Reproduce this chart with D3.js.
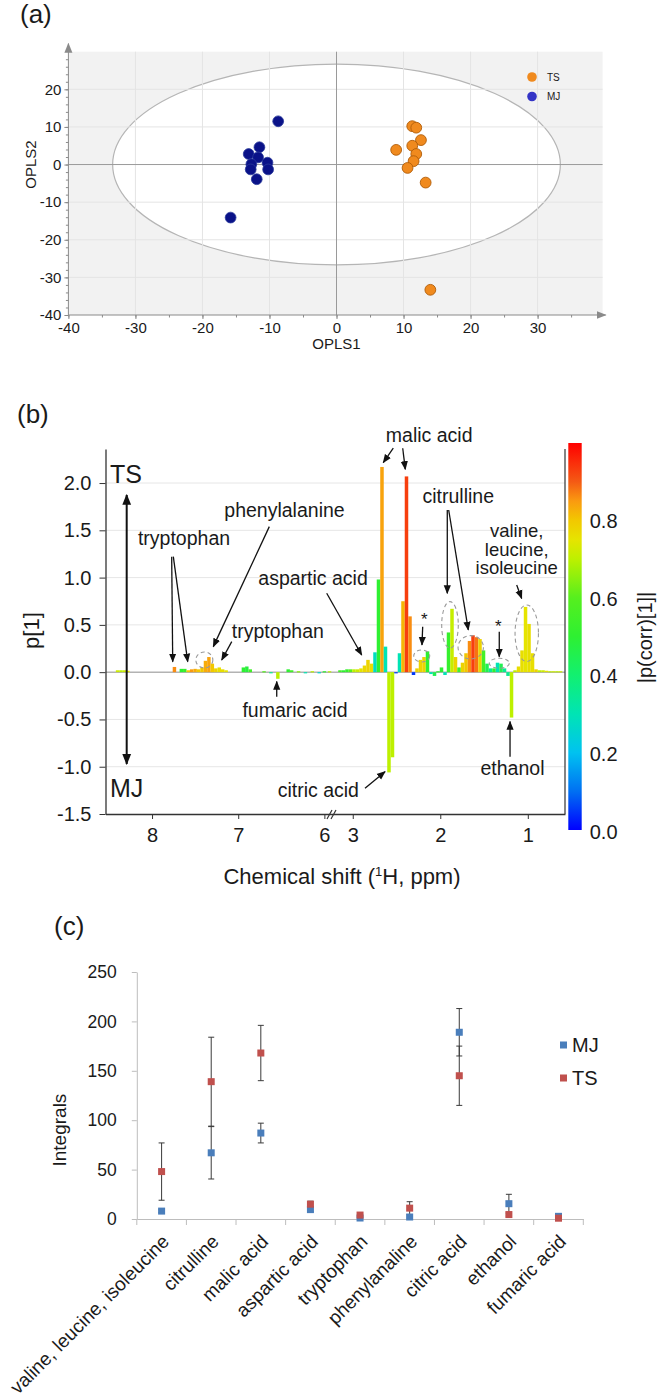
<!DOCTYPE html>
<html><head><meta charset="utf-8">
<script src="https://cdn.jsdelivr.net/npm/d3@7"></script>
<style>
body{margin:0;background:#fff}
svg{display:block}
text{font-family:"Liberation Sans",Arial,Helvetica,sans-serif;fill:#1a1a1a}
</style>
</head><body>
<svg id="c" width="663" height="1400"></svg>
<script>
// ================= DATA =================
// (a) OPLS-DA scores
const mjX = [-8.7, -11.5, -13.1, -11.7, -12.7, -10.3, -12.8, -10.2, -11.9, -15.8];
const mjY = [11.5, 4.6, 2.8, 1.9, 0.1, 0.5, -1.3, -1.3, -3.9, -14.1];
const tsX = [11.3, 11.9, 12.6, 8.9, 11.3, 11.9, 11.5, 10.6, 13.3, 14.0];
const tsY = [10.2, 9.8, 6.5, 3.9, 5.0, 2.8, 0.9, -0.9, -4.8, -33.3];
const ellipseSemiAxes = [33.4, 26.7];
const aTicksX = [-40, -30, -20, -10, 0, 10, 20, 30];
const aTicksY = [-40, -30, -20, -10, 0, 10, 20];

// (b) loadings p[1] coloured by |p(corr)[1]|
const specPpm = [8.40, 8.36, 8.32, 8.28, 7.74, 7.66, 7.62, 7.58, 7.54, 7.50, 7.46, 7.42, 7.38, 7.34, 7.30, 7.26, 7.22, 7.18, 7.14,
  6.94, 6.90, 6.86, 6.70, 6.62, 6.54, 6.42, 6.38, 6.30, 6.22, 6.14, 6.06, 6.00, 5.94,
  3.146, 3.106, 3.066, 3.026, 2.986, 2.946, 2.906, 2.866, 2.826, 2.786, 2.746, 2.706, 2.666, 2.626, 2.586, 2.546, 2.506,
  2.466, 2.426, 2.386, 2.346, 2.306, 2.266, 2.226, 2.186, 2.146, 2.106, 2.066, 2.026, 1.986, 1.946, 1.906, 1.866, 1.826,
  1.786, 1.746, 1.706, 1.666, 1.626, 1.586, 1.546, 1.506, 1.466, 1.426, 1.386, 1.346, 1.306, 1.266, 1.226, 1.186, 1.146,
  1.106, 1.066, 1.026, 0.986, 0.946, 0.906, 0.866, 0.826, 0.786, 0.746, 0.706, 0.666, 0.626];
const specP1 = [0.02, 0.02, 0.02, 0.015, 0.055, 0.035, 0.035, 0.02, 0.03, 0.035, 0.03, 0.05, 0.12, 0.16, 0.09, 0.04, 0.05, 0.03, 0.02,
  0.05, 0.06, 0.03, 0.01, -0.01, -0.07, 0.03, 0.02, 0.01, -0.01, 0.01, -0.01, 0.01, 0.01,
  0.02, 0.02, 0.03, 0.03, 0.03, 0.03, 0.04, 0.07, 0.13, 0.09, 0.21, 0.98, 2.17, 0.27, -1.06, -0.90, -0.01,
  0.20, 0.75, 2.07, 0.59, -0.03, 0.04, 0.13, 0.16, 0.22, -0.02, -0.04, 0.01, 0.05, -0.03, 0.42, 0.67, 0.16,
  0.05, 0.10, 0.20, 0.33, 0.39, 0.37, 0.35, 0.23, 0.09, 0.04, 0.04, 0.10, 0.09, 0.04, -0.04, -0.48, 0.02,
  0.06, 0.23, 0.69, 0.51, 0.20, 0.03, 0.02, 0.02, 0.015, 0.01, 0.01, 0.01, 0.01];
const specCorr = [0.72, 0.70, 0.72, 0.75, 0.86, 0.50, 0.52, 0.80, 0.85, 0.83, 0.80, 0.80, 0.83, 0.84, 0.80, 0.78, 0.76, 0.76, 0.75,
  0.50, 0.48, 0.55, 0.60, 0.35, 0.70, 0.50, 0.55, 0.65, 0.30, 0.70, 0.25, 0.50, 0.70,
  0.55, 0.50, 0.52, 0.60, 0.70, 0.72, 0.75, 0.77, 0.78, 0.76, 0.28, 0.50, 0.84, 0.30, 0.70, 0.70, 0.05,
  0.30, 0.82, 0.93, 0.86, 0.05, 0.78, 0.78, 0.78, 0.50, 0.30, 0.45, 0.50, 0.50, 0.30, 0.52, 0.71, 0.78,
  0.55, 0.78, 0.80, 0.86, 0.93, 0.88, 0.78, 0.55, 0.45, 0.35, 0.50, 0.30, 0.45, 0.35, 0.35, 0.70, 0.70,
  0.76, 0.76, 0.75, 0.76, 0.76, 0.78, 0.70, 0.72, 0.75, 0.70, 0.72, 0.70, 0.72];
const bTicksY = [-1.5, -1.0, -0.5, 0.0, 0.5, 1.0, 1.5, 2.0];
const bTicksX = [8, 7, 6, 3, 2, 1];
const cbTicks = [0.0, 0.2, 0.4, 0.6, 0.8];

// (c) integrals
const categories = ["valine, leucine, isoleucine", "citrulline", "malic acid", "aspartic acid", "tryptophan",
  "phenylanaline", "citric acid", "ethanol", "fumaric acid"];
const mjMean = [8, 67, 87, 9.5, 1, 2, 189, 15.5, 2.7];
const mjErr = [1.5, 26.5, 10, 2, 0.5, 1, 24, 9.5, 0.5];
const tsMean = [48, 139, 168, 15, 4, 11, 145, 4.5, 0.8];
const tsErr = [29, 45, 28, 3, 1, 6.5, 30, 1.5, 0.5];
const cTicksY = [0, 50, 100, 150, 200, 250];

// ================= DRAW =================
const svg = d3.select("#c");
const defs = svg.append("defs");
function mk(id, color, size) {
  defs.append("marker").attr("id", id).attr("viewBox", "0 0 10 10").attr("refX", 9).attr("refY", 5)
    .attr("markerWidth", size).attr("markerHeight", size).attr("orient", "auto-start-reverse")
    .attr("markerUnits", "userSpaceOnUse")
    .append("path").attr("d", "M0,1 L10,5 L0,9 z").attr("fill", color);
}
mk("ah", "#111", 9);
mk("ahBig", "#111", 11);
mk("ahGray", "#8a8a8a", 10);

function panelLabel(txt, x, y) {
  svg.append("text").attr("x", x).attr("y", y).attr("font-size", 26).text(txt);
}

// ---------- (a) ----------
const gA = svg.append("g");
const ax = d3.scaleLinear().domain([-40, 39.7]).range([68.4, 602.6]);
const ay = d3.scaleLinear().domain([-40, 30]).range([315, 51.7]);
panelLabel("(a)", 20, 23);
gA.append("rect").attr("x", ax(-40)).attr("y", ay(30)).attr("width", ax(39.7) - ax(-40))
  .attr("height", ay(-40) - ay(30)).attr("fill", "#f2f2f2");
gA.append("ellipse").attr("cx", ax(0)).attr("cy", ay(0))
  .attr("rx", ax(ellipseSemiAxes[0]) - ax(0)).attr("ry", ay(0) - ay(ellipseSemiAxes[1]))
  .attr("fill", "#fff").attr("stroke", "#b5b5b5").attr("stroke-width", 1.2);
gA.selectAll(".gx").data(aTicksX.filter(d => d !== 0 && d !== -40)).join("line")
  .attr("x1", d => ax(d)).attr("x2", d => ax(d)).attr("y1", ay(30)).attr("y2", ay(-40))
  .attr("stroke", "#e4e4e4");
gA.selectAll(".gy").data(aTicksY.filter(d => d !== 0 && d !== -40)).join("line")
  .attr("y1", d => ay(d)).attr("y2", d => ay(d)).attr("x1", ax(-40)).attr("x2", ax(39.7))
  .attr("stroke", "#e4e4e4");
gA.append("line").attr("x1", ax(0)).attr("x2", ax(0)).attr("y1", ay(30)).attr("y2", ay(-40)).attr("stroke", "#9a9a9a");
gA.append("line").attr("x1", ax(-40)).attr("x2", ax(39.7)).attr("y1", ay(0)).attr("y2", ay(0)).attr("stroke", "#9a9a9a");
// axes
const aYAxis = gA.append("g").attr("transform", `translate(${ax(-40)},0)`)
  .call(d3.axisLeft(ay).tickValues(aTicksY).tickFormat(d => String(d)).tickSize(4).tickPadding(3));
const aYMinor = gA.append("g").attr("transform", `translate(${ax(-40)},0)`)
  .call(d3.axisLeft(ay).tickValues(d3.range(-40, 29, 2)).tickFormat("").tickSize(2.5));
const aXAxis = gA.append("g").attr("transform", `translate(0,${ay(-40)})`)
  .call(d3.axisBottom(ax).tickValues(aTicksX).tickFormat(d => String(d)).tickSize(4).tickPadding(3));
const aXMinor = gA.append("g").attr("transform", `translate(0,${ay(-40)})`)
  .call(d3.axisBottom(ax).tickValues(d3.range(-40, 36, 5)).tickFormat("").tickSize(2.5));
[aYAxis, aYMinor, aXAxis, aXMinor].forEach(g => {
  g.select(".domain").remove();
  g.selectAll("line").attr("stroke", "#8a8a8a");
  g.selectAll("text").attr("font-size", 15).attr("fill", "#222");
});
gA.append("line").attr("x1", ax(-40)).attr("x2", ax(-40)).attr("y1", ay(-40)).attr("y2", ay(30) - 8)
  .attr("stroke", "#8a8a8a").attr("marker-end", "url(#ahGray)");
gA.append("line").attr("x1", ax(-40)).attr("x2", ax(39.7) + 3).attr("y1", ay(-40)).attr("y2", ay(-40))
  .attr("stroke", "#8a8a8a").attr("marker-end", "url(#ahGray)");
gA.append("text").attr("transform", `translate(36,${ay(0)}) rotate(-90)`).attr("text-anchor", "middle")
  .attr("font-size", 15).text("OPLS2");
gA.append("text").attr("x", ax(0)).attr("y", 349).attr("text-anchor", "middle").attr("font-size", 15).text("OPLS1");
// points
gA.selectAll(".mj").data(mjX.map((x, i) => [x, mjY[i]])).join("circle")
  .attr("cx", d => ax(d[0])).attr("cy", d => ay(d[1])).attr("r", 5.4)
  .attr("fill", "#0a1288").attr("stroke", "#2a3a9a").attr("stroke-width", 0.8);
gA.selectAll(".ts").data(tsX.map((x, i) => [x, tsY[i]])).join("circle")
  .attr("cx", d => ax(d[0])).attr("cy", d => ay(d[1])).attr("r", 5.4)
  .attr("fill", "#f08a1e").attr("stroke", "#b05c08").attr("stroke-width", 0.9);
// legend
const legA = [["TS", "#f08a1e"], ["MJ", "#3434c6"]];
legA.forEach((d, i) => {
  gA.append("circle").attr("cx", 532).attr("cy", 77 + i * 19.5).attr("r", 4.8).attr("fill", d[1]);
  gA.append("text").attr("x", 547).attr("y", 77 + i * 19.5).attr("dy", "0.35em").attr("font-size", 10)
    .attr("fill", "#333").text(d[0]);
});

// ---------- (b) ----------
const gB = svg.append("g");
panelLabel("(b)", 17, 423);
const bx = d3.scaleLinear().domain([8.54, 5.9, 3.18, 0.575]).range([105.5, 333, 337, 565]);
const by = d3.scaleLinear().domain([-1.5, 2.36]).range([814, 449]);
const corrStops = [0, 0.1, 0.2, 0.3, 0.4, 0.5, 0.6, 0.7, 0.75, 0.8, 0.85, 0.9, 1.0];
const corrColors = ["#0000ff", "#0070f2", "#00c2f0", "#00e4b4", "#12f070", "#2ef032", "#56ef1e", "#bdf000",
  "#e6e400", "#f2c800", "#fa9a10", "#f45a14", "#ff0000"];
const corrColor = d3.scaleLinear().domain(corrStops).range(corrColors);
const [xL, xR] = [bx(8.54), bx(0.575)];
gB.selectAll(".grid").data(bTicksY.filter(d => d !== 0 && d !== -1.5)).join("line")
  .attr("x1", xL).attr("x2", xR).attr("y1", d => by(d)).attr("y2", d => by(d))
  .attr("stroke", "#e6e6e6");
gB.append("line").attr("x1", xL).attr("x2", xR).attr("y1", by(0)).attr("y2", by(0)).attr("stroke", "#8c8c8c");
const binW = 0.04;
gB.selectAll(".bar").data(specPpm.map((p, i) => ({ p, v: specP1[i], c: specCorr[i] }))).join("rect")
  .attr("x", d => Math.min(bx(d.p - binW / 2), bx(d.p + binW / 2)))
  .attr("width", d => Math.abs(bx(d.p + binW / 2) - bx(d.p - binW / 2)))
  .attr("y", d => by(Math.max(0, d.v)))
  .attr("height", d => Math.max(1.2, Math.abs(by(d.v) - by(0))))
  .attr("fill", d => corrColor(d.c));
// axes
const bY = gB.append("g").attr("transform", `translate(${xL},0)`)
  .call(d3.axisLeft(by).tickValues(bTicksY).tickFormat(d => d.toFixed(1)).tickSize(6).tickSizeOuter(0).tickPadding(8));
const bX = gB.append("g").attr("transform", `translate(0,${by(-1.5)})`)
  .call(d3.axisBottom(bx).tickValues(bTicksX).tickFormat(d => String(d)).tickSize(5).tickSizeOuter(0).tickPadding(9));
[bY, bX].forEach(g => {
  g.select(".domain").attr("stroke", "#333").attr("stroke-width", 1.3);
  g.selectAll(".tick line").attr("stroke", "#333");
  g.selectAll("text").attr("font-size", 20).attr("fill", "#222");
});
gB.append("line").attr("x1", xR).attr("x2", xR).attr("y1", by(2.36)).attr("y2", by(-1.5))
  .attr("stroke", "#333").attr("stroke-width", 1.2);
// axis break
[0, 4].forEach(o => {
  gB.append("line").attr("x1", bx(5.9) - 6 + o).attr("x2", bx(5.9) - 1 + o)
    .attr("y1", by(-1.5) + 5).attr("y2", by(-1.5) - 4).attr("stroke", "#333").attr("stroke-width", 1.2);
});
gB.append("text").attr("transform", `translate(39,${by(0.44)}) rotate(-90)`).attr("text-anchor", "middle")
  .attr("font-size", 22).text("p[1]");
const xt = gB.append("text").attr("x", 342).attr("y", 884).attr("text-anchor", "middle").attr("font-size", 22);
xt.append("tspan").text("Chemical shift (");
xt.append("tspan").attr("font-size", 13).attr("dy", -8).text("1");
xt.append("tspan").attr("dy", 8).text("H, ppm)");

// colour bar
const cb = d3.scaleLinear().domain([0, 1]).range([832, 443]);
const grad = defs.append("linearGradient").attr("id", "cbg").attr("x1", 0).attr("y1", 1).attr("x2", 0).attr("y2", 0);
d3.range(0, 1.0001, 0.025).forEach(t => grad.append("stop").attr("offset", t).attr("stop-color", corrColor(t)));
gB.append("rect").attr("x", 568.3).attr("width", 13.4).attr("y", cb(1.0)).attr("height", cb(0) - cb(1.0) - 2)
  .attr("fill", "url(#cbg)");
const cbAx = gB.append("g").attr("transform", "translate(581.7,0)")
  .call(d3.axisRight(cb).tickValues(cbTicks).tickFormat(d => d.toFixed(1)).tickSize(0).tickPadding(8));
cbAx.select(".domain").remove();
cbAx.selectAll("text").attr("font-size", 20).attr("fill", "#222");
gB.append("text").attr("transform", `translate(652,${cb(0.5)}) rotate(-90)`).attr("text-anchor", "middle")
  .attr("font-size", 20).text("|p(corr)[1]|");

// annotations (data coordinates)
function arr(p1, v1, p2, v2, w = 1.3, m = "ah") {
  gB.append("line").attr("x1", bx(p1)).attr("y1", by(v1)).attr("x2", bx(p2)).attr("y2", by(v2))
    .attr("stroke", "#111").attr("stroke-width", w).attr("marker-end", `url(#${m})`);
}
function lab(p, v, txt, anchor = "middle", size = 19.5) {
  return gB.append("text").attr("x", bx(p)).attr("y", by(v)).attr("text-anchor", anchor).attr("font-size", size).text(txt);
}
function ell(p, v, rx, ry) {
  gB.append("ellipse").attr("cx", bx(p)).attr("cy", by(v)).attr("rx", rx).attr("ry", ry)
    .attr("fill", "none").attr("stroke", "#9a9a9a").attr("stroke-width", 1.1).attr("stroke-dasharray", "4,3");
}
lab(8.488, 2.0, "TS", "start", 25);
lab(8.488, -1.317, "MJ", "start", 25);
gB.append("line").attr("x1", bx(8.294)).attr("x2", bx(8.294)).attr("y1", by(1.874)).attr("y2", by(-0.971))
  .attr("stroke", "#111").attr("stroke-width", 2).attr("marker-start", "url(#ahBig)").attr("marker-end", "url(#ahBig)");
lab(7.629, 1.345, "tryptophan");
arr(7.772, 1.221, 7.760, 0.111);
arr(7.753, 1.221, 7.586, 0.111);
lab(6.463, 1.644, "phenylalanine");
arr(6.639, 1.539, 7.289, 0.27);
lab(7.075, 0.358, "tryptophan", "start");
arr(7.075, 0.323, 7.191, 0.129);
ell(7.393, 0.129, 8.5, 8);
lab(6.767, 0.922, "aspartic acid", "start");
arr(5.973, 0.834, 2.898, 0.182);
lab(2.127, 2.438, "malic acid");
arr(2.537, 2.368, 2.651, 2.216);
arr(2.429, 2.368, 2.400, 2.146);
lab(1.794, 1.786, "citrulline");
arr(1.920, 1.715, 1.920, 0.834);
arr(1.904, 1.715, 1.680, 0.447);
ell(1.889, 0.50, 8.3, 23.3);
ell(1.652, 0.263, 12.7, 11.7);
ell(2.212, 0.171, 8, 6);
ell(1.326, 0.094, 10, 5);
ell(1.012, 0.411, 11.7, 28.3);
lab(2.183, 0.50, "*", "middle", 17);
arr(2.201, 0.481, 2.209, 0.288);
lab(1.337, 0.43, "*", "middle", 17);
arr(1.326, 0.428, 1.326, 0.164);
// three-line label as one text element
const vl = lab(1.127, 1.425, "", "middle", 18.5);
["valine,", "leucine,", "isoleucine"].forEach((t, i) => {
  vl.append("tspan").attr("x", bx(1.127)).attr("dy", i === 0 ? 0 : 18.3).text(t);
});
arr(1.127, 0.922, 1.07, 0.78);
lab(6.341, -0.471, "fumaric acid");
arr(6.553, -0.259, 6.553, -0.1);
lab(6.07, -1.323, "citric acid");
arr(2.860, -1.228, 2.631, -1.052);
lab(1.175, -1.087, "ethanol");
arr(1.203, -0.894, 1.203, -0.523);

// ---------- (c) ----------
const gC = svg.append("g");
panelLabel("(c)", 54, 935);
const cxs = d3.scaleBand().domain(categories).range([136.8, 583.3]);
const cys = d3.scaleLinear().domain([0, 250]).range([1219, 972]);
const cY = gC.append("g").attr("transform", `translate(${cxs.range()[0]},0)`)
  .call(d3.axisLeft(cys).tickValues(cTicksY).tickSize(5).tickSizeOuter(0).tickPadding(15));
cY.select(".domain").attr("stroke", "#bdbdbd");
cY.selectAll(".tick line").attr("stroke", "#bdbdbd");
cY.selectAll("text").attr("font-size", 17.5).attr("fill", "#222");
const cX = gC.append("g").attr("transform", `translate(0,${cys(0)})`)
  .call(d3.axisBottom(cxs).tickSize(0).tickSizeOuter(0).tickFormat(""));
cX.select(".domain").attr("stroke", "#bdbdbd");
gC.selectAll(".btick").data(d3.range(categories.length + 1)).join("line")
  .attr("x1", i => cxs.range()[0] + i * cxs.step()).attr("x2", i => cxs.range()[0] + i * cxs.step())
  .attr("y1", cys(0)).attr("y2", cys(0) + 6).attr("stroke", "#bdbdbd");
const half = cxs.bandwidth() / 2;
function series(mean, err) {
  const d = categories.map((c, i) => ({ c, m: mean[i], e: err[i] }));
  gC.selectAll(null).data(d).join("line")
    .attr("x1", k => cxs(k.c) + half).attr("x2", k => cxs(k.c) + half)
    .attr("y1", k => cys(k.m - k.e)).attr("y2", k => cys(k.m + k.e)).attr("stroke", "#3a3a3a").attr("stroke-width", 1);
  ["lo", "hi"].forEach(s => gC.selectAll(null).data(d).join("line")
    .attr("x1", k => cxs(k.c) + half - 3).attr("x2", k => cxs(k.c) + half + 3)
    .attr("y1", k => cys(s === "lo" ? k.m - k.e : k.m + k.e)).attr("y2", k => cys(s === "lo" ? k.m - k.e : k.m + k.e))
    .attr("stroke", "#3a3a3a").attr("stroke-width", 1));
  return d;
}
const dMJ = series(mjMean, mjErr);
const dTS = series(tsMean, tsErr);
[[dMJ, "#4a7ebb"], [dTS, "#c0504d"]].forEach(([d, col]) => {
  gC.selectAll(null).data(d).join("rect")
    .attr("x", k => cxs(k.c) + half - 3.5).attr("y", k => cys(k.m) - 3.5).attr("width", 7).attr("height", 7)
    .attr("fill", col);
});
gC.selectAll(".clab").data(categories).join("text")
  .attr("transform", c => `translate(${cxs(c) + half + 4},${cys(0) + 19}) rotate(-45)`)
  .attr("text-anchor", "end").attr("dy", "0.35em").attr("font-size", 19).text(c => c);
gC.append("text").attr("transform", `translate(66,${cys(90)}) rotate(-90)`).attr("text-anchor", "middle")
  .attr("font-size", 19).text("Integrals");
const legC = [["MJ", "#4a7ebb"], ["TS", "#c0504d"]];
legC.forEach((d, i) => {
  gC.append("rect").attr("x", 560).attr("y", 1045 + i * 33 - 3.5).attr("width", 7).attr("height", 7).attr("fill", d[1]);
  gC.append("text").attr("x", 572).attr("y", 1045 + i * 33).attr("dy", "0.36em").attr("font-size", 20).text(d[0]);
});
</script>
</body></html>
